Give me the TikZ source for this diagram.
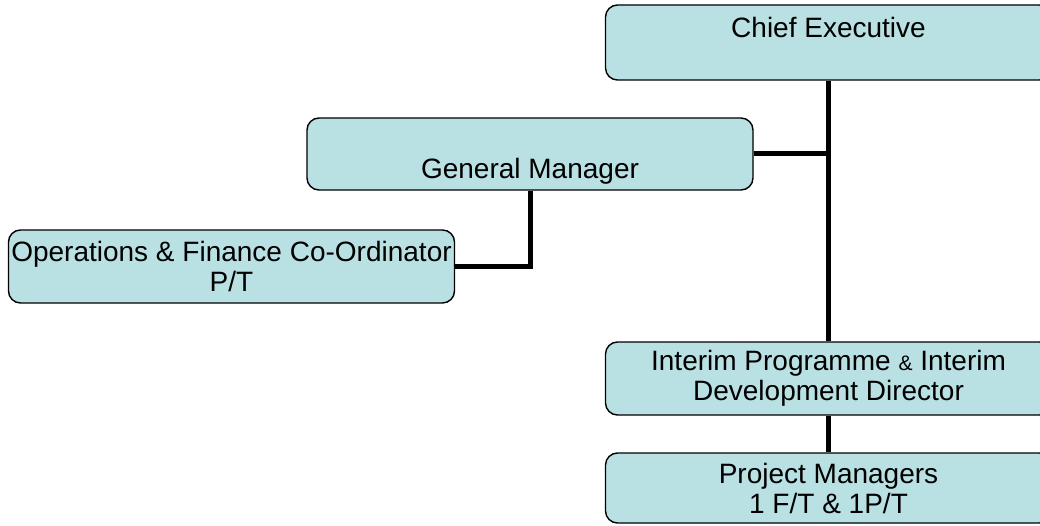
\documentclass[tikz,border=0pt]{standalone}
\usepackage{fontspec}
\setmainfont{Liberation Sans}
\usepackage{tikz}
\definecolor{boxblue}{RGB}{185,224,227}

\begin{document}
\begin{tikzpicture}[x=1pt,y=-1pt,
    post/.style={draw=black, line width=1.4pt, fill=boxblue, rounded corners=12pt,
      minimum width=446pt, minimum height=73pt, inner sep=0pt,
      align=center, font=\fontsize{28}{30}\selectfont},
    link/.style={line width=5pt}]
  % Fix the page size
  \useasboundingbox (0,0) rectangle (1040,526);

  % Draw the posts
  \node[post, minimum height=75pt] (chief) at (828.5,42.5) {Chief Executive\\ \mbox{}};
  \node[post, minimum height=72pt] (genman) at (530,154) {\rule{0pt}{24pt}\\ General Manager};
  \node[post] (opsfin) at (231.5,266.5) {Operations \& Finance Co-Ordinator\\ P/T};
  \node[post] (devdir) at (828.5,378.5)
    {Interim Programme {\fontsize{21}{21}\selectfont\&} Interim\\ Development Director};
  \node[post, minimum height=70pt] (projman) at (828.5,488) {Project Managers\\ 1 F/T \& 1P/T};

  % Draw the reporting lines
  \draw[link] (chief.south) -- (devdir.north);
  \draw[link] (genman.east) -- (genman.east -| chief.south);
  \draw[link] (genman.south) |- (opsfin.east);
  \draw[link] (devdir.south) -- (projman.north);
\end{tikzpicture}
\end{document}
